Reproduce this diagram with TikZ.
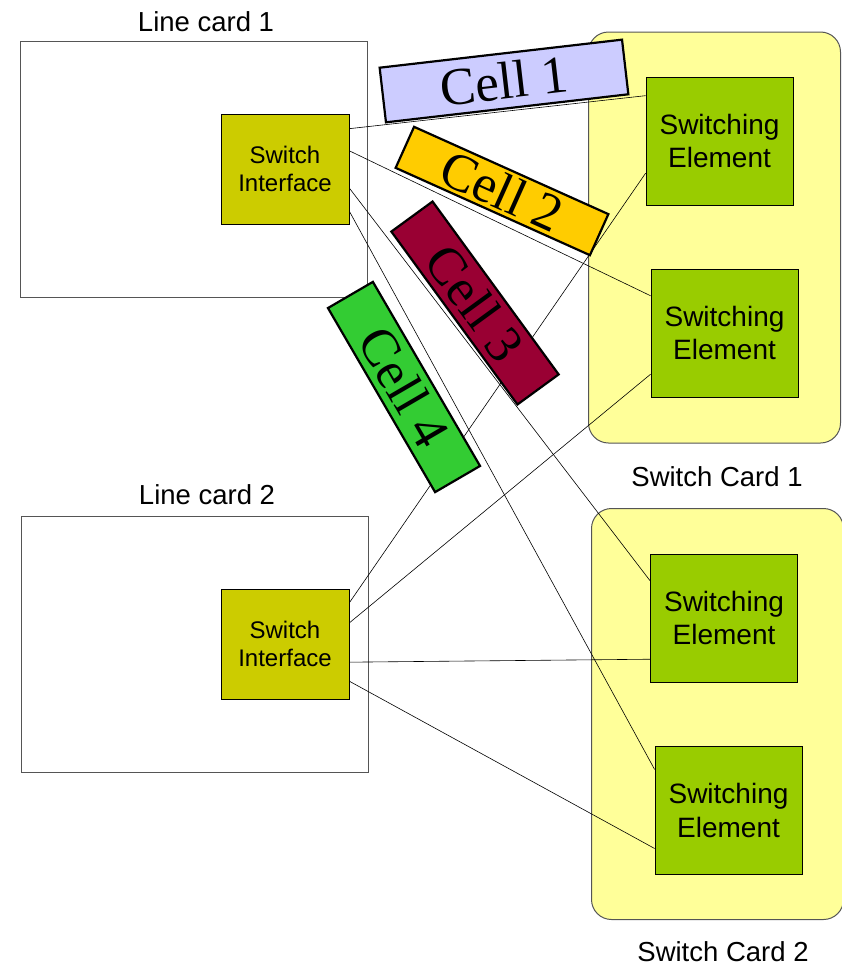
\documentclass[tikz,border=0pt]{standalone}
\usepackage{fontspec}
\setmainfont{Liberation Sans}
\newfontfamily\cellfont{Liberation Serif}
\usetikzlibrary{calc}
\definecolor{cardfill}{HTML}{FFFF99}
\definecolor{sifill}{HTML}{CCCC00}
\definecolor{sefill}{HTML}{99CC00}
\definecolor{cellA}{HTML}{CCCCFF}
\definecolor{cellB}{HTML}{FFCC00}
\definecolor{cellC}{HTML}{990033}
\definecolor{cellD}{HTML}{33CC33}
\definecolor{edgegray}{HTML}{555555}
\tikzset{
  linecard/.style={draw=edgegray, line width=1pt, fill=white, inner sep=0pt,
    minimum width=347pt, minimum height=256pt},
  switchcard/.style={draw=edgegray, line width=1pt, fill=cardfill, rounded corners=20pt,
    inner sep=0pt, minimum width=252pt, minimum height=411pt},
  ifacebox/.style={draw=black, line width=0.8pt, fill=sifill, inner sep=0pt,
    minimum width=128pt, minimum height=110pt, align=center,
    font=\fontsize{24}{28.8}\selectfont},
  elembox/.style={draw=black, line width=0.8pt, fill=sefill, inner sep=0pt,
    minimum width=147pt, minimum height=128pt, align=center,
    font=\fontsize{28}{33.6}\selectfont},
  cardlabel/.style={anchor=base, inner sep=0pt, font=\fontsize{27.5}{33}\selectfont},
  cellbox/.style={draw=black, line width=2.2pt, inner sep=0pt,
    font=\cellfont\fontsize{53}{63}\selectfont},
  wire/.style={draw=black, line width=0.6pt}
}
\begin{document}
\begin{tikzpicture}[x=1pt,y=-1pt]
\useasboundingbox (0,0) rectangle (842,964);

% cards
\node[linecard] (lc1) at (194,169) {};
\node[linecard] (lc2) at (194.5,644) {};
\node[switchcard] (sc1) at (714.5,237.5) {};
\node[switchcard] (sc2) at (717.5,714) {};

% card captions
\node[cardlabel] (lc1lab) at (206,31) {Line card 1};
\node[cardlabel] (lc2lab) at (207,504) {Line card 2};
\node[cardlabel] (sc1lab) at (717,486) {Switch Card 1};
\node[cardlabel] (sc2lab) at (723,961) {Switch Card 2};

% switch interfaces
\node[ifacebox] (si1) at (285,169) {Switch\\Interface};
\node[ifacebox] (si2) at (285,644) {Switch\\Interface};

% switching elements
\node[elembox] (se1) at (719.5,141) {Switching\\Element};
\node[elembox] (se2) at (724.5,333) {Switching\\Element};
\node[elembox] (se3) at (724,618) {Switching\\Element};
\node[elembox] (se4) at (728.5,810.5) {Switching\\Element};

% links from line card 1
\draw[wire] ($(si1.north east)!0.136!(si1.south east)$) -- ($(se1.north west)!0.148!(se1.south west)$);
\draw[wire] ($(si1.north east)!0.336!(si1.south east)$) -- ($(se2.north west)!0.211!(se2.south west)$);
\draw[wire] ($(si1.north east)!0.673!(si1.south east)$) -- ($(se3.north west)!0.211!(se3.south west)$);
\draw[wire] ($(si1.north east)!0.882!(si1.south east)$) -- ($(se4.north west)!0.181!(se4.south west)$);

% links from line card 2
\draw[wire] ($(si2.north east)!0.127!(si2.south east)$) -- ($(se1.north west)!0.75!(se1.south west)$);
\draw[wire] ($(si2.north east)!0.309!(si2.south east)$) -- ($(se2.north west)!0.82!(se2.south west)$);
\draw[wire] ($(si2.north east)!0.664!(si2.south east)$) -- ($(se3.north west)!0.82!(se3.south west)$);
\draw[wire] ($(si2.north east)!0.836!(si2.south east)$) -- ($(se4.north west)!0.795!(se4.south west)$);

% cells in flight
\node[cellbox, fill=cellA, rotate=6.6, minimum width=244pt, minimum height=55pt] (cell1) at (504,81) {Cell 1};
\node[cellbox, fill=cellB, rotate=-24.2, minimum width=213pt, minimum height=45pt] (cell2) at (502,191) {Cell 2};
\node[cellbox, fill=cellC, rotate=-53.9, minimum width=214pt, minimum height=51pt] (cell3) at (475,303) {Cell 3};
\node[cellbox, fill=cellD, rotate=-59.8, minimum width=213pt, minimum height=52pt] (cell4) at (404,387) {Cell 4};
\end{tikzpicture}
\end{document}
